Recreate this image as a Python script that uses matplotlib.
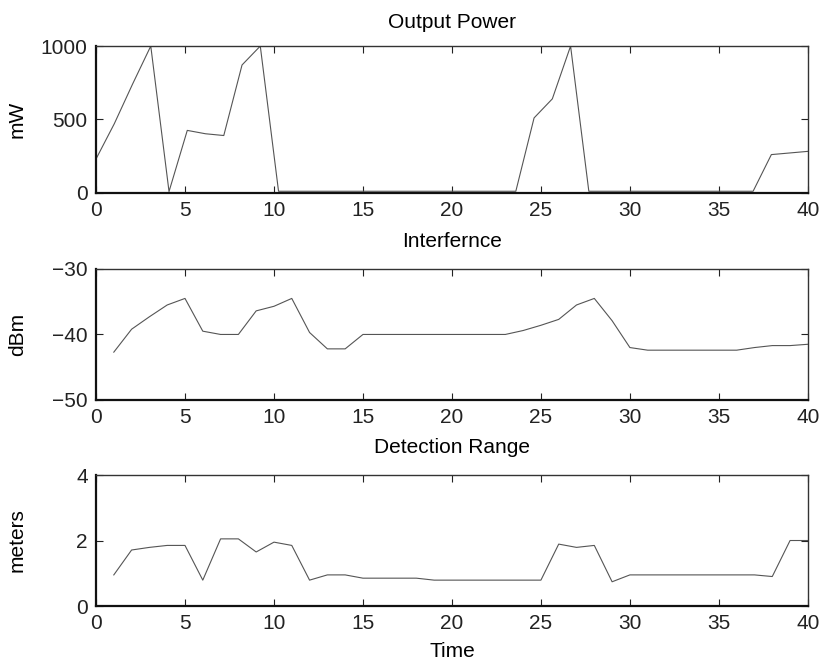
import numpy as np
from matplotlib import pyplot as plt

plt.rcParams['font.family'] = ['Liberation Sans', 'DejaVu Sans']
plt.rcParams['font.size'] = 15

# Output power (mW), 40 samples spread over 0..40
power_t = np.linspace(0, 40, 40)
power = [230, 470, 740, 1000, 8, 425, 402, 390, 871, 1000,
         10, 10, 10, 10, 10, 10, 10, 10, 10, 10,
         10, 10, 10, 10, 510, 640, 1000, 10, 10, 10,
         10, 10, 10, 10, 10, 10, 10, 260, 271, 282]

# Interference (dBm), t = 1..40
interf_t = np.arange(1, 41)
interf = [-42.7, -39.2, -37.3, -35.5, -34.5, -39.5, -40.0, -40.0, -36.4, -35.7,
          -34.5, -39.7, -42.2, -42.2, -40.0, -40.0, -40.0, -40.0, -40.0, -40.0,
          -40.0, -40.0, -40.0, -39.4, -38.6, -37.7, -35.5, -34.5, -37.9, -42.0,
          -42.4, -42.4, -42.4, -42.4, -42.4, -42.4, -42.0, -41.7, -41.7, -41.5]

# Detection range (meters), t = 1..40
range_t = np.arange(1, 41)
det_range = [0.95, 1.71, 1.79, 1.85, 1.85, 0.79, 2.05, 2.05, 1.65, 1.95,
             1.85, 0.79, 0.95, 0.95, 0.85, 0.85, 0.85, 0.85, 0.79, 0.79,
             0.79, 0.79, 0.79, 0.79, 0.79, 1.89, 1.79, 1.85, 0.74, 0.95,
             0.95, 0.95, 0.95, 0.95, 0.95, 0.95, 0.95, 0.90, 2.0, 2.0]

fig = plt.figure(figsize=(8.22, 6.6), dpi=100)

ax1 = fig.add_axes([0.1168, 0.708, 0.866, 0.2222])
ax2 = fig.add_axes([0.1168, 0.394, 0.866, 0.1985])
ax3 = fig.add_axes([0.1168, 0.0818, 0.866, 0.1985])

lc = '#555555'
ax1.plot(power_t, power, color=lc, lw=0.8)
ax1.set_ylim(0, 1000)
ax1.set_yticks([0, 500, 1000])
ax1.set_ylabel('mW')
ax1.set_title('Output Power', fontsize=15, pad=13)

ax2.plot(interf_t, interf, color=lc, lw=0.8)
ax2.set_ylim(-50, -30)
ax2.set_yticks([-50, -40, -30])
ax2.set_yticklabels(['\u221250', '\u221240', '\u221230'])
ax2.set_ylabel('dBm')
ax2.set_title('Interfernce', fontsize=15, pad=16)

ax3.plot(range_t, det_range, color=lc, lw=0.8)
ax3.set_ylim(0, 4)
ax3.set_yticks([0, 2, 4])
ax3.set_ylabel('meters')
ax3.set_title('Detection Range', fontsize=15, pad=16)
ax3.set_xlabel('Time', labelpad=6)

for ax in [ax1, ax2, ax3]:
    ax.set_xlim(0, 40)
    ax.set_xticks(range(0, 41, 5))
    ax.tick_params(direction='in', top=True, right=True, length=5, width=0.8,
                   labelsize=15, colors='#222222')
    ax.tick_params(axis='x', pad=6)
    ax.tick_params(axis='y', pad=6)
    for s in ['left', 'bottom']:
        ax.spines[s].set_linewidth(1.6)
        ax.spines[s].set_color('#111111')
    for s in ['top', 'right']:
        ax.spines[s].set_linewidth(1.0)
        ax.spines[s].set_color('#333333')
    ax.yaxis.set_label_coords(-0.097, 0.5)

fig.savefig('out.png', dpi=100)
